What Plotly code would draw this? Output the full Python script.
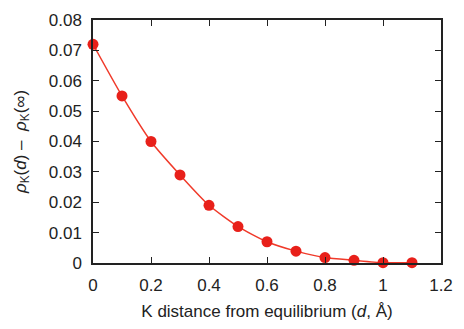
import plotly.graph_objects as go

distance = [0.0, 0.1, 0.2, 0.3, 0.4, 0.5, 0.6, 0.7, 0.8, 0.9, 1.0, 1.1]
rho_diff = [0.072, 0.055, 0.040, 0.029, 0.019, 0.012, 0.0070, 0.0039, 0.0018, 0.0009, 0.0001, 0.0001]

x_ticks = [0, 0.2, 0.4, 0.6, 0.8, 1.0, 1.2]
x_tick_labels = ["0", "0.2", "0.4", "0.6", "0.8", "1", "1.2"]
y_ticks = [0, 0.01, 0.02, 0.03, 0.04, 0.05, 0.06, 0.07, 0.08]
y_tick_labels = ["0", "0.01", "0.02", "0.03", "0.04", "0.05", "0.06", "0.07", "0.08"]

fig = go.Figure()
fig.add_trace(go.Scatter(
    x=distance, y=rho_diff, mode="lines+markers",
    line=dict(color="#f03a2a", width=1.5, shape="spline", smoothing=0.6),
    marker=dict(color="#e8201a", size=11),
    cliponaxis=False, showlegend=False,
))

font_family = "Liberation Sans, Arial, sans-serif"
axis_common = dict(
    showgrid=False, zeroline=False, showline=True, linecolor="#222", linewidth=1.5,
    mirror="ticks", ticks="inside", ticklen=6, tickwidth=1.2, tickcolor="#222",
    tickfont=dict(family=font_family, size=17, color="#222"),
)
fig.update_xaxes(
    range=[0, 1.2], tickvals=x_ticks, ticktext=x_tick_labels,
    ticklabelstandoff=6,
    title=dict(text="K distance from equilibrium (<i>d</i>, Å)",
               font=dict(family=font_family, size=17, color="#222"), standoff=11),
    **axis_common,
)
fig.update_yaxes(
    range=[0, 0.08], tickvals=y_ticks, ticktext=y_tick_labels,
    ticklabelstandoff=6,
    title=dict(text="<i>ρ</i><sub>K</sub>(<i>d</i>) –  <i>ρ</i><sub>K</sub>(∞)",
               font=dict(family=font_family, size=17, color="#222"), standoff=18),
    **axis_common,
)
fig.update_layout(
    width=464, height=329,
    margin=dict(l=93, r=15, t=11, b=65),
    plot_bgcolor="white", paper_bgcolor="white",
)
fig.write_html("out.html", config={"displayModeBar": False},
               post_script="document.body.style.margin='0';")
